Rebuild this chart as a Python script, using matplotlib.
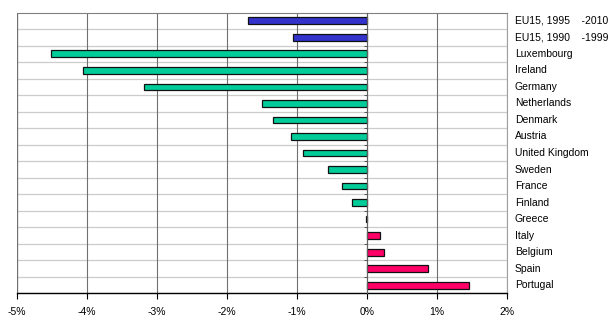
import matplotlib.pyplot as plt
import numpy as np

# average annual change, top row first
labels = ['EU15, 1995    -2010', 'EU15, 1990    -1999', 'Luxembourg', 'Ireland',
          'Germany', 'Netherlands', 'Denmark', 'Austria', 'United Kingdom',
          'Sweden', 'France', 'Finland', 'Greece', 'Italy', 'Belgium',
          'Spain', 'Portugal']
values = [-1.70, -1.05, -4.52, -4.06, -3.19, -1.50, -1.34, -1.09, -0.91,
          -0.56, -0.35, -0.21, -0.01, 0.19, 0.25, 0.87, 1.46]
xticks = [-5, -4, -3, -2, -1, 0, 1, 2]

blue = '#3333CC'
green = '#00CC99'
pink = '#FF0066'
colors = [blue if l.startswith('EU15') else (green if v < 0 else pink)
          for l, v in zip(labels, values)]

plt.rcParams['font.family'] = ['Liberation Sans', 'DejaVu Sans']

fig = plt.figure(figsize=(6.14, 3.24), dpi=100)
ax = fig.add_axes([17 / 614, 1 - 293.3 / 324, (507 - 17) / 614, (293.3 - 12.7) / 324])

n = len(labels)
y = np.arange(n)
ax.barh(y, values, height=0.42, color=colors, edgecolor='#111111', linewidth=0.9, zorder=3)

ax.set_xlim(-5, 2)
ax.set_ylim(n - 0.5, -0.5)

# row separators
for b in np.arange(-0.5, n, 1.0)[1:]:
    ax.axhline(b, color='#cccccc', lw=0.9, zorder=1)

ax.set_xticks(xticks)
ax.set_xticklabels(['%d%%' % t for t in xticks], fontsize=7.5)
ax.grid(axis='x', color='#707070', lw=0.8, zorder=1)
ax.tick_params(axis='x', direction='out', length=4, width=0.8, color='black', pad=6)

# vertical axis at zero with small ticks on the row boundaries
ax.spines['left'].set_position(('data', 0))
ax.spines['left'].set_color('#606060')
ax.spines['left'].set_linewidth(0.8)
ax.spines['left'].set_zorder(4)
ax.set_yticks(np.arange(-0.5, n, 1.0))
ax.set_yticklabels([])
ax.tick_params(axis='y', direction='out', length=2, width=0.6, color='#404040')
ax.axvline(-5, color='#808080', lw=0.9, zorder=1)

ax.spines['top'].set_color('#808080')
ax.spines['right'].set_color('#a0a0a0')
ax.spines['bottom'].set_color('black')
ax.spines['bottom'].set_linewidth(1.0)

for yi, l in zip(y, labels):
    ax.text(1.016, yi, l, transform=ax.get_yaxis_transform(), fontsize=7.5,
            va='center', ha='left')

fig.savefig('out.png', dpi=100)
